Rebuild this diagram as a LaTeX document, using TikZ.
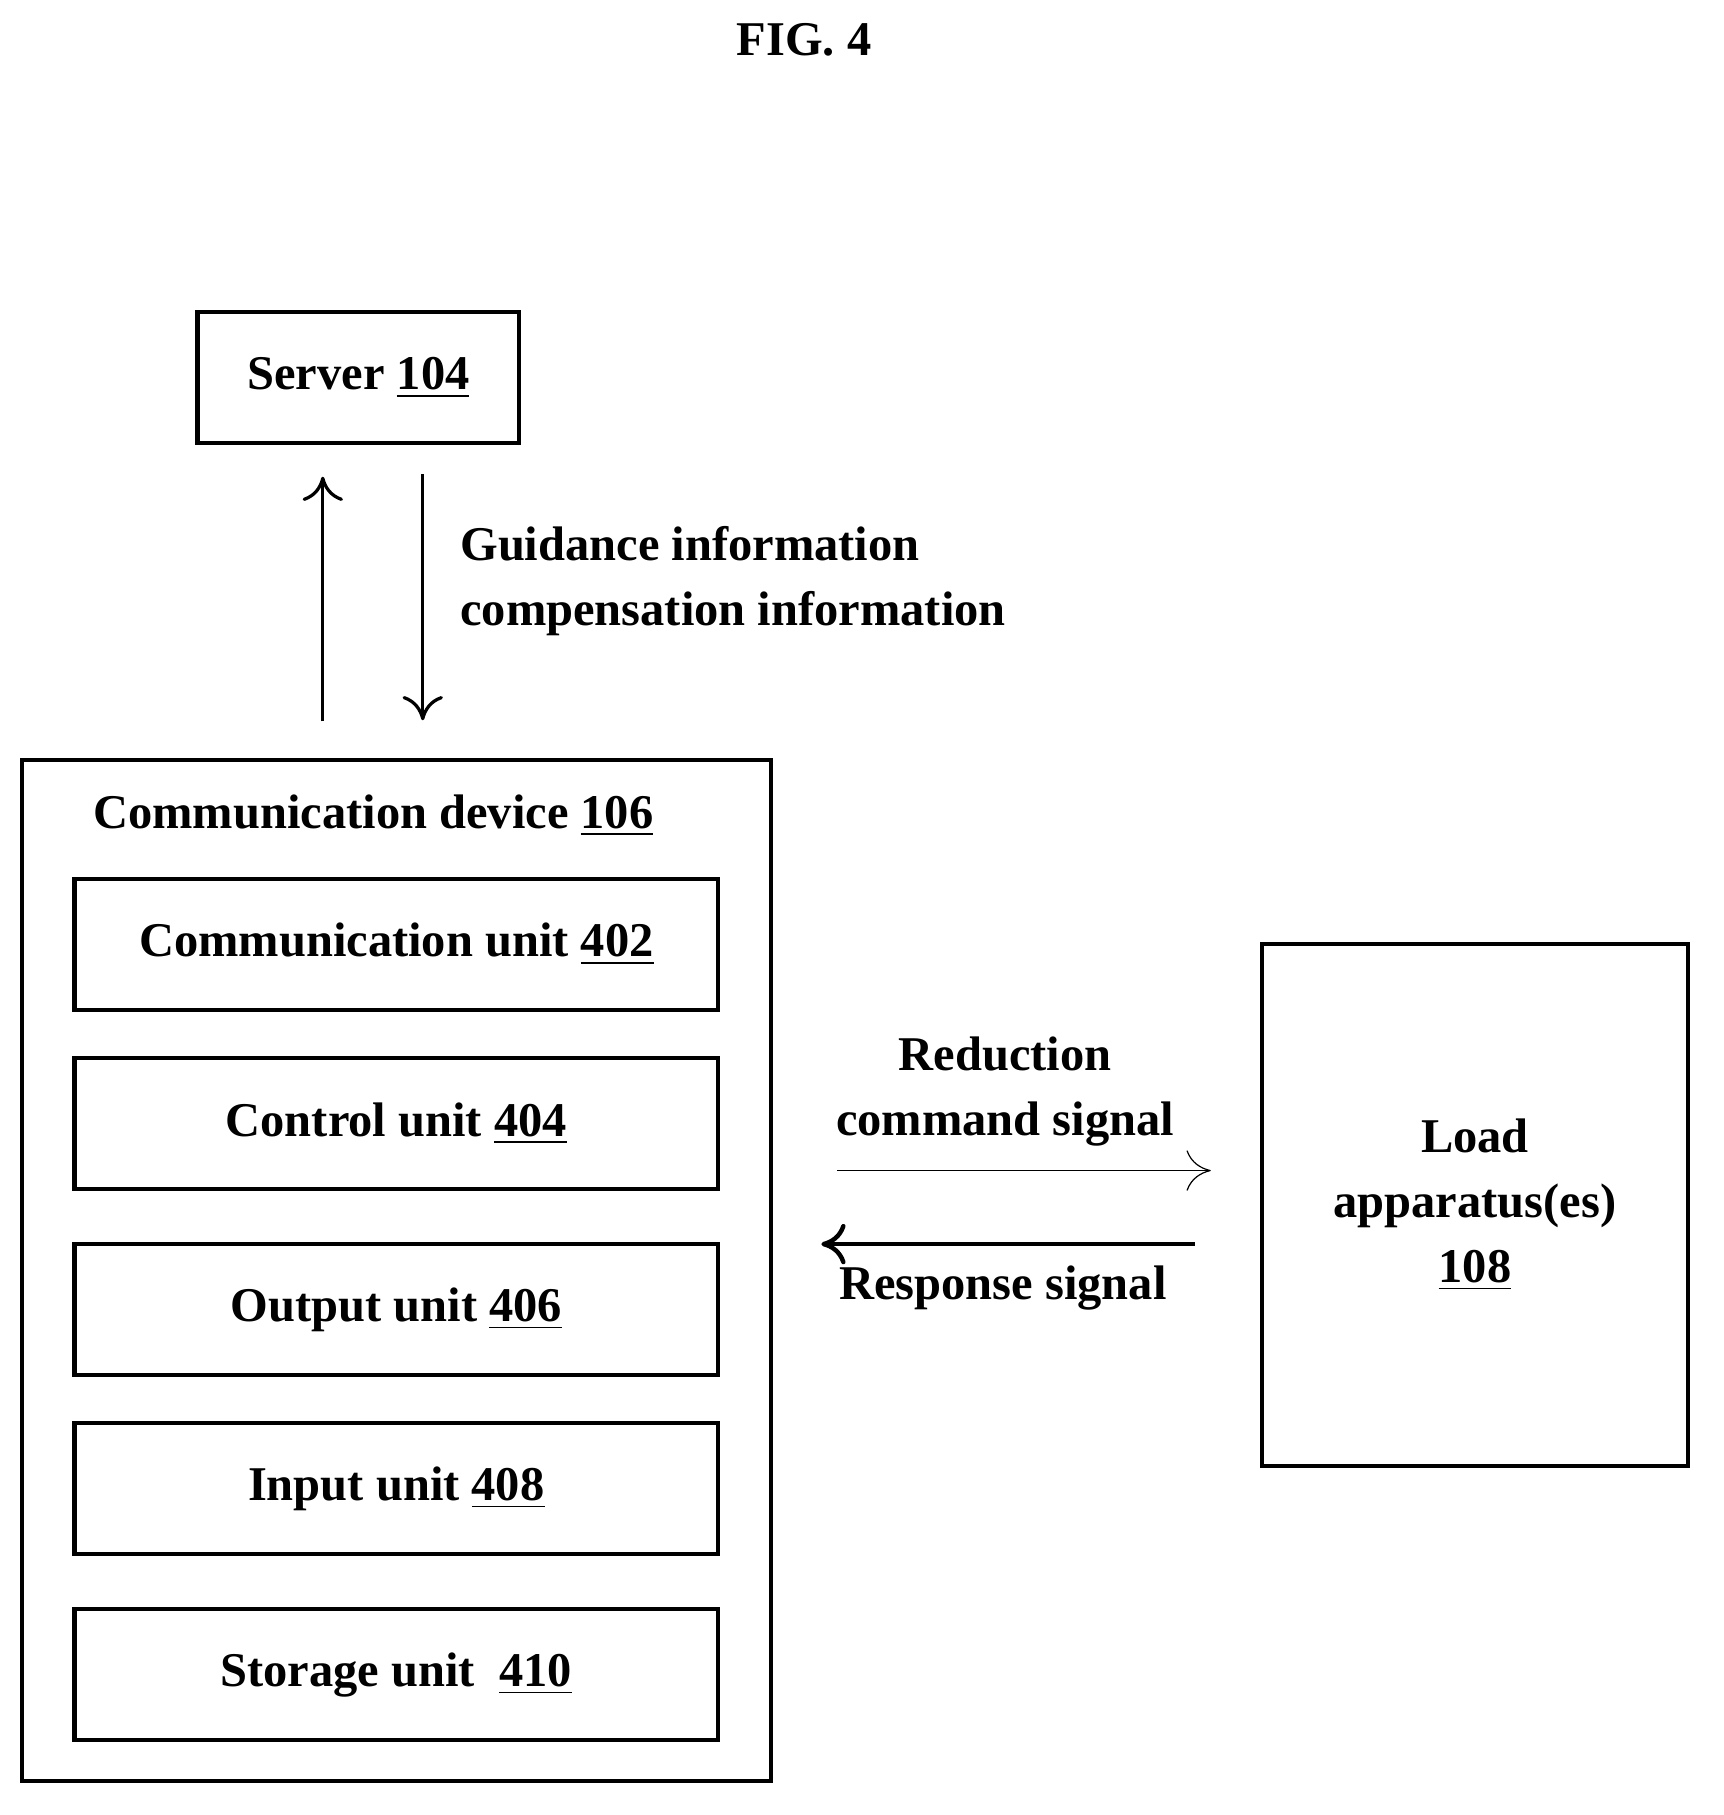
\documentclass[tikz,border=0pt]{standalone}
\usepackage{fontspec}
\setmainfont{Liberation Serif}
\usetikzlibrary{arrows.meta,positioning}

\tikzset{
	box/.style={draw, line width=1pt, minimum width=5.6cm, minimum height=1.14cm, align=center, font=\fontsize{12}{15}\selectfont\bfseries},
	lbl/.style={font=\fontsize{12}{15}\selectfont\bfseries, align=center, inner sep=0pt},
	arr/.style={-{To[length=6pt,width=10pt]}, line width=0.8pt}
}

\begin{document}
\begin{tikzpicture}[x=0.01cm,y=0.01cm]
		\useasboundingbox (0,0) rectangle (1500,-1580);
		\node[lbl] (fig) at (700,-35) {FIG. 4};
		% server and guidance
		\node[box, minimum width=2.8cm] (server) at (312,-329) {Server \underline{104}};
		\coordinate (upS) at (281,-628);
		\coordinate (upE) at (281,-415);
		\coordinate (dnS) at (368,-413);
		\coordinate (dnE) at (368,-627);
		\draw[arr] (upS) -- (upE);
		\draw[arr] (dnS) -- (dnE);
		\node[lbl, align=left, anchor=west] (guide) at (400,-506) {Guidance information\\[1pt]compensation information};
		% communication device
		\node[draw, line width=1pt, minimum width=6.52cm, minimum height=8.88cm] (dev) at (345,-1106) {};
		\node[lbl] (devname) at (325,-710) {Communication device \underline{106}};
		\node[box] (u402) at (345,-822) {Communication unit \underline{402}};
		\node[box] (u404) at (345,-978) {Control unit \underline{404}};
		\node[box] (u406) at (345,-1140) {Output unit \underline{406}};
		\node[box] (u408) at (345,-1296) {Input unit \underline{408}};
		\node[box] (u410) at (345,-1458) {Storage unit\ \ \underline{410}};
		% load apparatus
		\node[box, minimum width=3.7cm, minimum height=4.54cm] (load) at (1284,-1049) {Load\\[1pt]apparatus(es)\\[1pt]\underline{108}};
		\coordinate (redS) at (729,-1019);
		\coordinate (redE) at (1054,-1019);
		\coordinate (resS) at (1040,-1083);
		\coordinate (resE) at (715,-1083);
		\draw[-{To[length=6pt,width=10pt]}, line width=0.3pt] (redS) -- (redE);
		\draw[arr, line width=1.1pt] (resS) -- (resE);
		\node[lbl] (red) at (875,-950) {Reduction\\[1pt]command signal};
		\node[lbl] (res) at (873,-1121) {Response signal};
\end{tikzpicture}
\end{document}
